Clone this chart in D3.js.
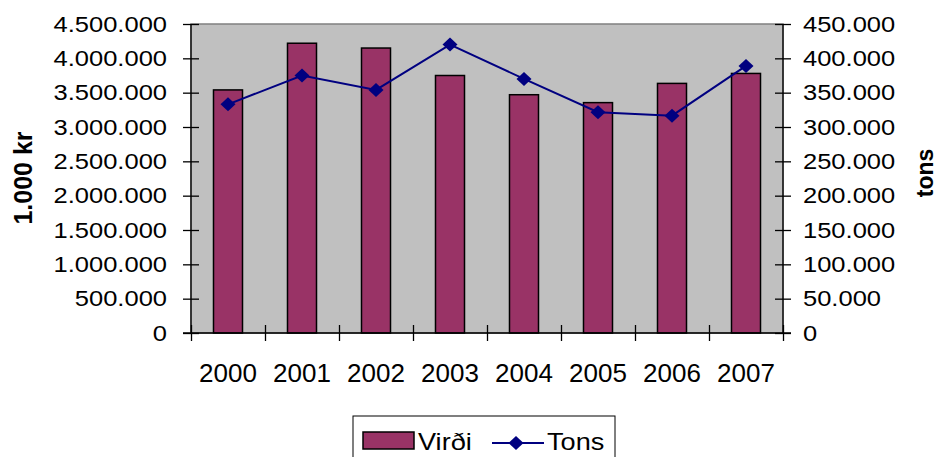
<!DOCTYPE html>
<html>
<head>
<meta charset="utf-8">
<script src="https://cdn.jsdelivr.net/npm/d3@7"></script>
<style>
  body { margin: 0; background: #fff; }
  svg { display: block; font-family: "Liberation Sans", Arial, sans-serif; }
</style>
</head>
<body>
<svg id="chart" width="939" height="457"></svg>
<script>
const years = ['2000', '2001', '2002', '2003', '2004', '2005', '2006', '2007']
const virdi = [3540000, 4220000, 4150000, 3750000, 3470000, 3355000, 3635000, 3780000]
const tons = [333000, 375000, 354000, 420000, 370000, 321500, 316500, 389000]
const leftTicks = [0, 500000, 1000000, 1500000, 2000000, 2500000, 3000000, 3500000, 4000000, 4500000]
const rightTicks = [0, 50000, 100000, 150000, 200000, 250000, 300000, 350000, 400000, 450000]

const width = 939
const height = 457
const margin = { top: 24, right: 156, bottom: 124, left: 191 }
const BAR = '#993366'
const LINE = '#000080'

const svg = d3.select('#chart')
const fmt = d3.formatLocale({ decimal: ',', thousands: '.', grouping: [3], currency: ['', ''] }).format(',d')

const x0 = margin.left
const x1 = width - margin.right
const y0 = height - margin.bottom
const y1 = margin.top

const x = d3.scaleBand()
    .domain(years)
    .range([x0, x1])
    .paddingInner(0.608)
    .paddingOuter(0.304)

const xCat = d3.scaleBand().domain(years).range([x0, x1]).padding(0)
const xEdge = d3.scaleLinear().domain([0, years.length]).range([x0, x1])

const yL = d3.scaleLinear().domain([0, 4500000]).range([y0, y1])
const yR = d3.scaleLinear().domain([0, 450000]).range([y0, y1])

// plot area
svg.append('rect')
    .attr('x', x0).attr('y', y1)
    .attr('width', x1 - x0).attr('height', y0 - y1)
    .attr('fill', '#c0c0c0')
    .attr('stroke', '#808080')
    .attr('stroke-width', 1.5)

// bars
svg.append('g')
    .selectAll('rect')
    .data(years)
    .join('rect')
    .attr('x', d => x(d))
    .attr('width', x.bandwidth())
    .attr('y', (d, i) => yL(virdi[i]))
    .attr('height', (d, i) => y0 - yL(virdi[i]))
    .attr('fill', BAR)
    .attr('stroke', '#000')
    .attr('stroke-width', 1.5)

// wide tick labels (source text looks horizontally stretched)
function stretch(sel, dx, sx) {
    sel.each(function() {
        d3.select(this).attr('x', null).attr('dx', null)
            .attr('transform', `translate(${dx},0) scale(${sx},1)`)
    })
}

// left axis
const gL = svg.append('g')
    .attr('transform', `translate(${x0},0)`)
    .call(d3.axisLeft(yL).tickValues(leftTicks).tickFormat(fmt).tickSize(8))
gL.selectAll('.tick line').attr('x1', -8).attr('x2', 8).attr('stroke', '#000').attr('stroke-width', 1.3)
gL.select('.domain').attr('d', `M0,${y0}V${y1}`).attr('stroke-width', 1.3)
gL.selectAll('.tick text')
    .attr('font-size', 22).attr('fill', '#000')
    .attr('font-family', '"Liberation Sans", Arial, sans-serif')
    .call(stretch, -24, 1.16)

// right axis
const gR = svg.append('g')
    .attr('transform', `translate(${x1},0)`)
    .call(d3.axisRight(yR).tickValues(rightTicks).tickFormat(fmt).tickSize(8))
gR.selectAll('.tick line').attr('x1', -8).attr('x2', 8).attr('stroke', '#000').attr('stroke-width', 1.3)
gR.select('.domain').attr('d', `M0,${y0}V${y1}`).attr('stroke-width', 1.3)
gR.selectAll('.tick text')
    .attr('font-size', 22).attr('fill', '#000')
    .attr('font-family', '"Liberation Sans", Arial, sans-serif')
    .call(stretch, 20, 1.16)

// bottom axis: boundary ticks
const gB = svg.append('g')
    .attr('transform', `translate(0,${y0})`)
    .call(d3.axisBottom(xEdge).ticks(years.length).tickFormat('').tickSize(8))
gB.selectAll('.tick line').attr('y1', -8).attr('y2', 8).attr('stroke', '#000').attr('stroke-width', 1.3)
gB.select('.domain').attr('d', `M${x0 - 8},0H${x1 + 8}`).attr('stroke-width', 1.3)

// bottom labels
const gLab = svg.append('g')
    .attr('transform', `translate(0,${y0})`)
    .call(d3.axisBottom(xCat).tickSize(0).tickPadding(31))
gLab.select('.domain').remove()
gLab.selectAll('.tick text')
    .attr('font-size', 26).attr('fill', '#000')
    .attr('font-family', '"Liberation Sans", Arial, sans-serif')

// line series
const line = d3.line()
    .x((d, i) => xCat(years[i]) + xCat.bandwidth() / 2)
    .y(d => yR(d))

svg.append('path')
    .datum(tons)
    .attr('d', line)
    .attr('fill', 'none')
    .attr('stroke', LINE)
    .attr('stroke-width', 2)

const diamond = (cx, cy) => `M${cx},${cy - 7}L${cx + 7.5},${cy}L${cx},${cy + 7}L${cx - 7.5},${cy}Z`

svg.append('g')
    .selectAll('path')
    .data(tons)
    .join('path')
    .attr('d', (d, i) => diamond(xCat(years[i]) + xCat.bandwidth() / 2, yR(d)))
    .attr('fill', LINE)

// axis titles
svg.append('text')
    .attr('transform', 'translate(32,178) rotate(-90)')
    .attr('text-anchor', 'middle')
    .attr('font-size', 25)
    .attr('font-weight', 'bold')
    .text('1.000 kr')

svg.append('text')
    .attr('transform', 'translate(933,173) rotate(-90)')
    .attr('text-anchor', 'middle')
    .attr('font-size', 23)
    .attr('font-weight', 'bold')
    .text('tons')

// legend
const lg = svg.append('g')
lg.append('rect')
    .attr('x', 353).attr('y', 416)
    .attr('width', 262).attr('height', 60)
    .attr('fill', '#fff').attr('stroke', '#000').attr('stroke-width', 1)
lg.append('rect')
    .attr('x', 363).attr('y', 432).attr('width', 51).attr('height', 17)
    .attr('fill', BAR).attr('stroke', '#000').attr('stroke-width', 1.5)
lg.append('text')
    .attr('transform', 'translate(418,449.5) scale(1.18,1)')
    .attr('font-size', 23)
    .text('Virði')
lg.append('line')
    .attr('x1', 492).attr('x2', 544).attr('y1', 443).attr('y2', 443)
    .attr('stroke', LINE).attr('stroke-width', 2)
lg.append('path')
    .attr('d', diamond(516, 443))
    .attr('fill', LINE)
lg.append('text')
    .attr('transform', 'translate(547,449.5) scale(1.18,1)')
    .attr('font-size', 23)
    .text('Tons')
</script>
</body>
</html>
